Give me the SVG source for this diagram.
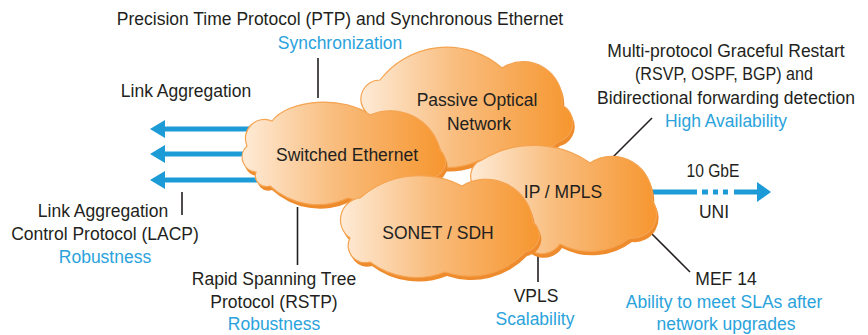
<svg xmlns="http://www.w3.org/2000/svg" width="868" height="335" viewBox="0 0 868 335">
<style>
text{font-family:"Liberation Sans",Arial,sans-serif;font-size:17.5px;fill:#231f20;text-anchor:middle}
.b{fill:#2aa3dc}
.ln{stroke:#231f20;stroke-width:1.6;fill:none}
.ar{fill:#1d9bd7}
.sh{fill:#ee8b2c}
.cl{fill:url(#g);stroke:#f5a350;stroke-width:1.2}
</style>
<defs>
<linearGradient id="g" x1="0" y1="0" x2="1" y2="0">
<stop offset="0" stop-color="#feebd7"/>
<stop offset="0.45" stop-color="#f9bd7e"/>
<stop offset="1" stop-color="#f6962f"/>
</linearGradient>
</defs>
<rect width="868" height="335" fill="#fff"/>
<g id="connectors">
<g id="lag-arrows">
<path class="ar" d="M150,129 L165,120 L165,126.5 L285,126.5 L285,131.5 L165,131.5 L165,138 Z"/>
<path class="ar" d="M150,154 L165,145 L165,151.5 L285,151.5 L285,156.5 L165,156.5 L165,163 Z"/>
<path class="ar" d="M150,180 L165,171 L165,177.5 L285,177.5 L285,182.5 L165,182.5 L165,189 Z"/>
</g>
<g id="uni-arrow">
<rect class="ar" x="630" y="189.5" width="67" height="5"/>
<rect class="ar" x="702" y="189.5" width="6" height="5"/>
<rect class="ar" x="713" y="189.5" width="5" height="5"/>
<rect class="ar" x="723" y="189.5" width="5" height="5"/>
<rect class="ar" x="734" y="189.5" width="24" height="5"/>
<path class="ar" d="M757,182 L771,192 L757,202 Z"/>
</g>
<line class="ln" x1="318" y1="58" x2="318" y2="98"/>
<line class="ln" x1="182" y1="192" x2="182" y2="215"/>
<line class="ln" x1="297.5" y1="207" x2="297.5" y2="265"/>
<line class="ln" x1="652" y1="118" x2="612" y2="158"/>
<line class="ln" x1="647" y1="229" x2="690" y2="272"/>
<line class="ln" x1="538" y1="256" x2="538" y2="282"/>
</g>
<g id="pon">
<path class="sh" transform="translate(2,4)" d="M366,112 A19,19 0 0 1 380,80 A84,84 0 0 1 502,68 A39,39 0 0 1 562,105 A20,20 0 0 1 558,142 A85,85 0 0 1 480,160 A73,73 0 0 1 400,150 A30,30 0 0 1 366,112 Z"/>
<path class="cl" d="M366,112 A19,19 0 0 1 380,80 A84,84 0 0 1 502,68 A39,39 0 0 1 562,105 A20,20 0 0 1 558,142 A85,85 0 0 1 480,160 A73,73 0 0 1 400,150 A30,30 0 0 1 366,112 Z"/>
<text x="477" y="106">Passive Optical</text>
<text x="479" y="130">Network</text>
</g>
<g id="switched-ethernet">
<path class="sh" transform="translate(2,4)" d="M256,172 A15,15 0 0 1 247,146 A19,19 0 0 1 272,121 A56,30 0 0 1 370,115 A51,51 0 0 1 440,150 A16,16 0 0 1 428,178 A76,76 0 0 1 348,198 A71,71 0 0 1 270,186 A11,11 0 0 1 256,172 Z"/>
<path class="cl" d="M256,172 A15,15 0 0 1 247,146 A19,19 0 0 1 272,121 A56,30 0 0 1 370,115 A51,51 0 0 1 440,150 A16,16 0 0 1 428,178 A76,76 0 0 1 348,198 A71,71 0 0 1 270,186 A11,11 0 0 1 256,172 Z"/>
<text x="347" y="161">Switched Ethernet</text>
</g>
<g id="ip-mpls">
<path class="sh" transform="translate(2,4)" d="M478,190 A17,17 0 0 1 482,160 A99,99 0 0 1 590,163 A40,40 0 0 1 652,200 A24,24 0 0 1 630,238 A66,66 0 0 1 560,244 A22,22 0 0 1 520,235 A34,34 0 0 1 478,190 Z"/>
<path class="cl" d="M478,190 A17,17 0 0 1 482,160 A99,99 0 0 1 590,163 A40,40 0 0 1 652,200 A24,24 0 0 1 630,238 A66,66 0 0 1 560,244 A22,22 0 0 1 520,235 A34,34 0 0 1 478,190 Z"/>
<text x="563" y="198">IP / MPLS</text>
</g>
<g id="sonet-sdh">
<path class="sh" transform="translate(2,4)" d="M350,238 A22,22 0 0 1 360,198 A91,91 0 0 1 462,186 A47,47 0 0 1 533,222 A17,17 0 0 1 525,252 A76,76 0 0 1 445,272 A77,77 0 0 1 370,262 A17,17 0 0 1 350,238 Z"/>
<path class="cl" d="M350,238 A22,22 0 0 1 360,198 A91,91 0 0 1 462,186 A47,47 0 0 1 533,222 A17,17 0 0 1 525,252 A76,76 0 0 1 445,272 A77,77 0 0 1 370,262 A17,17 0 0 1 350,238 Z"/>
<text x="438" y="239">SONET / SDH</text>
</g>
<g id="labels">
<text x="340" y="25">Precision Time Protocol (PTP) and Synchronous Ethernet</text>
<text class="b" x="340" y="49">Synchronization</text>
<text x="186" y="97">Link Aggregation</text>
<text x="726" y="57">Multi-protocol Graceful Restart</text>
<text x="724" y="80" textLength="178" lengthAdjust="spacingAndGlyphs">(RSVP, OSPF, BGP) and</text>
<text x="726" y="104">Bidirectional forwarding detection</text>
<text class="b" x="726" y="127">High Availability</text>
<text x="713" y="177" textLength="53" lengthAdjust="spacingAndGlyphs">10 GbE</text>
<text x="714" y="218">UNI</text>
<text x="103" y="217">Link Aggregation</text>
<text x="105" y="240">Control Protocol (LACP)</text>
<text class="b" x="105" y="263">Robustness</text>
<text x="274" y="285">Rapid Spanning Tree</text>
<text x="274" y="308">Protocol (RSTP)</text>
<text class="b" x="274" y="330">Robustness</text>
<text x="536" y="302">VPLS</text>
<text class="b" x="535" y="325">Scalability</text>
<text x="726" y="285">MEF 14</text>
<text class="b" x="724" y="308">Ability to meet SLAs after</text>
<text class="b" x="726" y="330">network upgrades</text>
</g>
</svg>
